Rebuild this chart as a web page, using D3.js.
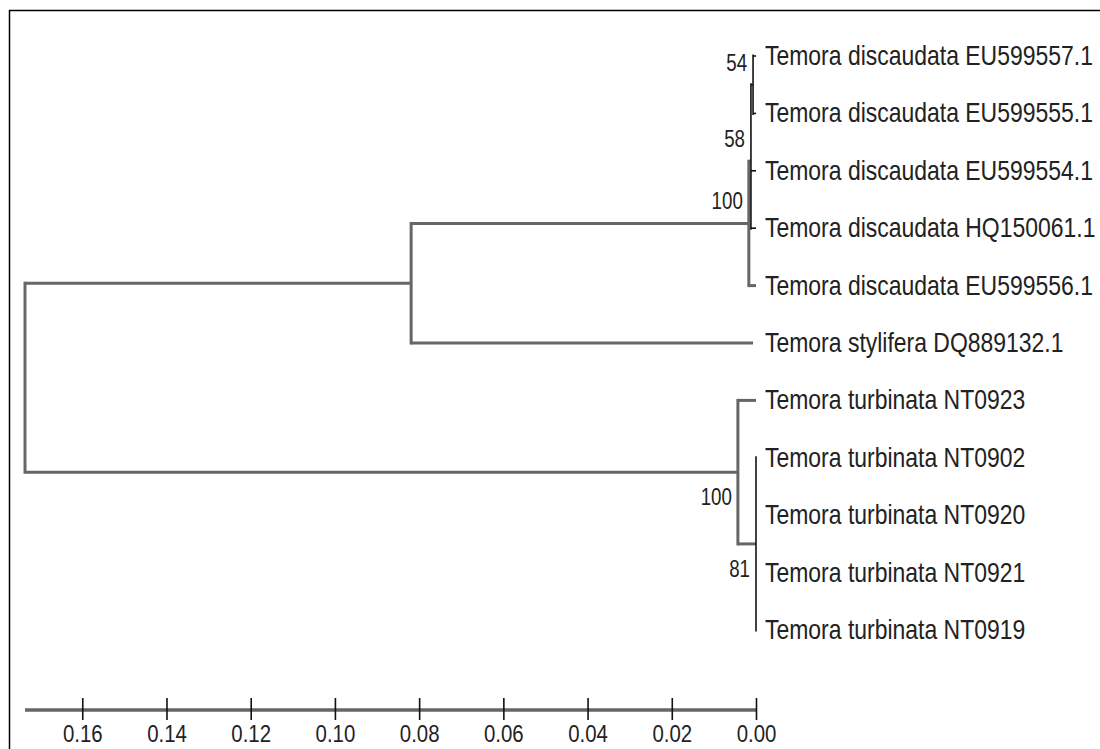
<!DOCTYPE html>
<html>
<head>
<meta charset="utf-8">
<script src="https://cdn.jsdelivr.net/npm/d3@7"></script>
<style>
  body { margin: 0; background: #ffffff; }
  svg { display: block; }
  text { font-family: "Liberation Sans", Arial, sans-serif; }
</style>
</head>
<body>
<div id="tree"></div>
<script>
"use strict";

// tree nodes: id, parent, height (distance from tips), bootstrap support
const node_ids = ["root", "A", "D100", "D58", "D54", "B", "B81",
  "Temora discaudata EU599557.1", "Temora discaudata EU599555.1", "Temora discaudata EU599554.1",
  "Temora discaudata HQ150061.1", "Temora discaudata EU599556.1", "Temora stylifera DQ889132.1",
  "Temora turbinata NT0923", "Temora turbinata NT0902", "Temora turbinata NT0920",
  "Temora turbinata NT0921", "Temora turbinata NT0919"];
const node_parents = [null, "root", "A", "D100", "D58", "root", "B",
  "D54", "D54", "D58", "D58", "D100", "A", "B", "B81", "B81", "B81", "B81"];
const node_heights = [0.1736, 0.0819, 0.0017, 0.0012, 0.0007, 0.0043, 0.0,
  0, 0, 0, 0, 0, 0.0007, 0, 0, 0, 0, 0];
const node_support = [null, null, 100, 58, 54, 100, 81,
  null, null, null, null, null, null, null, null, null, null, null];

// leaf order top to bottom
const leaf_order = ["Temora discaudata EU599557.1", "Temora discaudata EU599555.1", "Temora discaudata EU599554.1",
  "Temora discaudata HQ150061.1", "Temora discaudata EU599556.1", "Temora stylifera DQ889132.1",
  "Temora turbinata NT0923", "Temora turbinata NT0902", "Temora turbinata NT0920",
  "Temora turbinata NT0921", "Temora turbinata NT0919"];

const scale_ticks = [0.16, 0.14, 0.12, 0.10, 0.08, 0.06, 0.04, 0.02, 0.00];

const width = 1100;
const height = 749;

const svg = d3.select("#tree")
    .append("svg")
    .attr("width", width)
    .attr("height", height)
    .attr("viewBox", [0, 0, width, height]);

// frame (only top and left edges show in the picture)
svg.append("path")
    .attr("d", "M9.5,749 V10.5 H1100")
    .style("fill", "none")
    .style("stroke", "#000")
    .style("stroke-width", 1.5);

const x = d3.scaleLinear()
    .domain([0, 0.1736])
    .range([756, 25]);

const y = d3.scalePoint()
    .domain(leaf_order)
    .range([56, 630]);

const rows = node_ids.map(function(id, i) {
  return {id: id, parent: node_parents[i], h: node_heights[i], support: node_support[i]};
});

const root = d3.stratify()
    .id(function(d) { return d.id; })
    .parentId(function(d) { return d.parent; })(rows);

// node y = mean of its children, x = height on the distance scale
root.eachAfter(function(n) {
  if (!n.children) {
    n.py = y(n.id);
  } else {
    n.py = d3.mean(n.children, function(c) { return c.py; });
  }
  n.px = x(n.data.h);
});

const thin = function(n) { return n.data.h < 0.0013; };

const g = svg.append("g");

// horizontal branches
g.selectAll(".hbranch")
    .data(root.descendants().filter(function(n) { return n.parent; }))
    .enter()
    .append("line")
    .attr("class", "hbranch")
    .attr("x1", function(n) { return n.parent.px; })
    .attr("x2", function(n) { return n.px; })
    .attr("y1", function(n) { return n.py; })
    .attr("y2", function(n) { return n.py; })
    .style("stroke", function(n) { return thin(n.parent) ? "#111" : "#666"; })
    .style("stroke-width", function(n) { return thin(n.parent) ? 1.6 : 3; });

// vertical connectors
g.selectAll(".vbranch")
    .data(root.descendants().filter(function(n) { return n.children; }))
    .enter()
    .append("line")
    .attr("class", "vbranch")
    .attr("x1", function(n) { return n.px; })
    .attr("x2", function(n) { return n.px; })
    .attr("y1", function(n) { return d3.min(n.children, function(c) { return c.py; }) - 1.5; })
    .attr("y2", function(n) { return d3.max(n.children, function(c) { return c.py; }) + 1.5; })
    .style("stroke", function(n) { return thin(n) ? "#111" : "#666"; })
    .style("stroke-width", function(n) { return thin(n) ? 1.6 : 3; });

// leaf labels (narrow face squeezed from Liberation Sans)
g.selectAll(".leaf-label")
    .data(root.leaves())
    .enter()
    .append("text")
    .attr("class", "leaf-label")
    .attr("transform", function(n) { return `translate(765,${n.py + 9}) scale(0.82,1)`; })
    .text(function(n) { return n.id; })
    .style("font-size", "28px")
    .style("fill", "#222");

// bootstrap values
const mid = root.py;
g.selectAll(".support")
    .data(root.descendants().filter(function(n) { return n.data.support !== null; }))
    .enter()
    .append("text")
    .attr("class", "support")
    .attr("transform", function(n) {
      const ty = n.py < mid ? n.py - 14 : n.py + 33;
      return `translate(${n.px - 6},${ty}) scale(0.78,1)`;
    })
    .attr("text-anchor", "end")
    .text(function(n) { return n.data.support; })
    .style("font-size", "24px")
    .style("fill", "#222");

// distance scale
const axis = svg.append("g")
    .attr("transform", "translate(0,710)")
    .call(d3.axisBottom(x)
        .tickValues(scale_ticks)
        .tickFormat(d3.format(".2f"))
        .tickSize(0)
        .tickPadding(15));

axis.select(".domain")
    .attr("d", "M25,0H756")
    .style("stroke", "#666")
    .style("stroke-width", 3.5);

axis.selectAll(".tick")
    .append("line")
    .attr("y1", -12)
    .attr("y2", 10)
    .style("stroke", "#111")
    .style("stroke-width", 1.6);

axis.selectAll(".tick text")
    .attr("transform", "scale(0.85,1)")
    .style("font-family", "\"Liberation Sans\", Arial, sans-serif")
    .style("font-size", "24px")
    .style("fill", "#222");
</script>
</body>
</html>
